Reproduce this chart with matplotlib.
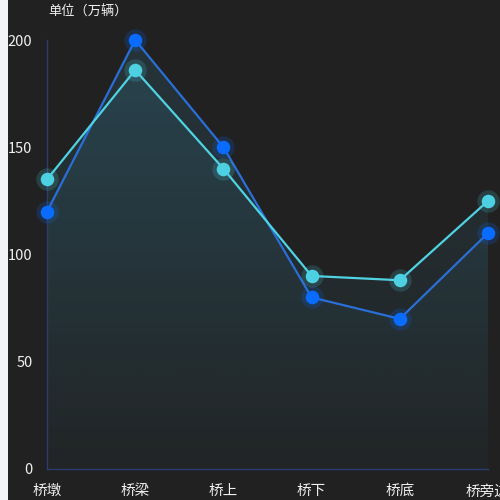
import numpy as np
import matplotlib.pyplot as plt
from matplotlib.patches import Rectangle

plt.rcParams['font.family'] = ['Noto Sans CJK SC', 'DejaVu Sans']

categories = ['桥墩', '桥梁', '桥上', '桥下', '桥底', '桥旁边']
blue_values = [120, 200, 150, 80, 70, 110]
cyan_values = [135, 186, 140, 90, 88, 125]
y_ticks = [0, 50, 100, 150, 200]

bg = '#212121'
fig = plt.figure(figsize=(5, 5), dpi=100, facecolor=bg)
fig.patches.append(Rectangle((0, 0), 8 / 500, 1, transform=fig.transFigure,
                             facecolor='#f2f3f7', edgecolor='none', zorder=0))
ax = fig.add_axes([47 / 500, 31 / 500, 441 / 500, 429 / 500])
ax.set_facecolor(bg)

x = np.arange(len(categories))

# gradient area fill under both series
def grad_fill(values, color, alpha_top):
    xs = np.linspace(0, len(values) - 1, 600)
    ys = np.interp(xs, x, values)
    img = np.zeros((256, 1, 4))
    rgb = plt.matplotlib.colors.to_rgb(color)
    img[:, :, :3] = rgb
    img[:, 0, 3] = np.linspace(alpha_top, 0.02, 256)
    im = ax.imshow(img, aspect='auto', extent=[0, len(values) - 1, 0, 200],
                   origin='upper', zorder=1)
    poly = ax.fill_between(xs, ys, 0, color='none')
    path = poly.get_paths()[0]
    im.set_clip_path(path, transform=ax.transData)

grad_fill(blue_values, '#3a8fb0', 0.18)
grad_fill(cyan_values, '#3a8fb0', 0.18)

ax.plot(x, blue_values, color='#2a6fd6', lw=1.6, zorder=3)
ax.plot(x, cyan_values, color='#4fd2e2', lw=1.6, zorder=3)
ax.scatter(x, blue_values, s=260, color='#0a6cff', alpha=0.18, lw=0, zorder=4, clip_on=False)
ax.scatter(x, blue_values, s=95, color='#0a6cff', lw=0, zorder=5, clip_on=False)
ax.scatter(x, cyan_values, s=260, color='#4dd0e1', alpha=0.18, lw=0, zorder=4, clip_on=False)
ax.scatter(x, cyan_values, s=95, color='#4dd0e1', lw=0, zorder=5, clip_on=False)

ax.set_xlim(0, len(categories) - 1)
ax.set_ylim(0, 200)
ax.set_xticks(x)
ax.set_xticklabels(categories, fontweight='medium')
ax.set_yticks(y_ticks)
ax.set_yticklabels([str(v) for v in y_ticks], fontweight='medium')
for s in ['top', 'right']:
    ax.spines[s].set_visible(False)
for s in ['left', 'bottom']:
    ax.spines[s].set_color('#2b3c73')
    ax.spines[s].set_linewidth(1)
ax.tick_params(colors='#f0f0f0', labelsize=10.5, length=0)
ax.tick_params(axis='x', pad=11)
ax.tick_params(axis='y', pad=10.5)

fig.text(48 / 500, 1 - 12 / 500, '单位（万辆）', color='#f0f0f0', fontsize=9.5,
         fontweight='medium', va='center', ha='left')

fig.savefig('out.png', dpi=100, facecolor=bg)
